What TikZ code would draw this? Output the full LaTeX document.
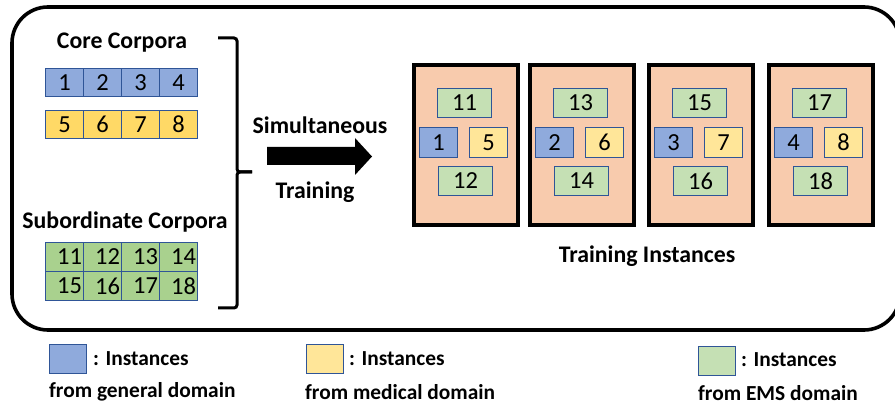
\documentclass[tikz,border=0pt]{standalone}
\usepackage{fontspec}
\setmainfont{Carlito}
\definecolor{bordblue}{HTML}{2F5597}
\definecolor{cblue}{HTML}{8FAADC}
\definecolor{cyellow}{HTML}{FFD966}
\definecolor{lyellow}{HTML}{FFE699}
\definecolor{cgreen}{HTML}{A9D18E}
\definecolor{lgreen}{HTML}{C5E0B4}
\definecolor{panelfill}{HTML}{F8CBAD}
\tikzset{
  cellbox/.style={draw=bordblue, line width=1.1pt, minimum width=38pt, minimum height=28pt, inner sep=0pt, anchor=north west, font=\fontsize{24.5}{26}\selectfont},
  gcell/.style={cellbox, fill=cgreen, minimum height=29pt, align=right, text width=35pt},
  inbox/.style={draw=bordblue, line width=1pt, inner sep=0pt, anchor=north west, minimum height=29pt, font=\fontsize{24.5}{26}\selectfont},
  panelbox/.style={draw=black, line width=3.8pt, fill=panelfill, minimum width=104pt, minimum height=160pt, inner sep=0pt, anchor=north west},
  headtext/.style={font=\bfseries\fontsize{23.8}{26}\selectfont, inner sep=0pt},
  legtext/.style={font=\bfseries\fontsize{21.4}{23}\selectfont, inner sep=0pt, anchor=west},
  legsq/.style={draw=bordblue, line width=1pt, minimum width=37pt, minimum height=29pt, inner sep=0pt, anchor=north west}
}
\begin{document}
\begin{tikzpicture}[x=1pt,y=-1pt]
\useasboundingbox (0,0) rectangle (895,406);
% outer frame
\draw[line width=3.6pt, rounded corners=36pt] (12,7) rectangle (900,330);
% headings
\node[headtext] (core) at (122,43) {Core Corpora};
\node[headtext] (sub) at (125,222) {Subordinate Corpora};
% core cells
\foreach \n [count=\i from 0] in {1,2,3,4}
  \node[cellbox, fill=cblue] (b\n) at (45+38*\i,68) {\n};
\foreach \n [count=\i from 0] in {5,6,7,8}
  \node[cellbox, fill=cyellow] (y\n) at (45+38*\i,110) {\n};
\foreach \n [count=\i from 0] in {11,12,13,14}
  \node[gcell] (g\n) at (45+38*\i,242) {\n};
\foreach \n [count=\i from 0] in {15,16,17,18}
  \node[gcell] (g\n) at (45+38*\i,271) {\n};
% brace
\draw[line width=3pt, rounded corners=3pt] (218,38) -- (237,38) -- (237,172) -- (252,172);
\draw[line width=3pt, rounded corners=3pt] (252,172) -- (237,172) -- (237,308) -- (218,308);
% arrow
\fill (267,147) -- (355,147) -- (355,138) -- (372,156.5) -- (355,175) -- (355,165) -- (267,165) -- cycle;
\node[headtext] (sim) at (320,125) {Simultaneous};
\node[headtext] (trn) at (315,192) {Training};
% panels
\foreach \k/\L/\ga/\bb/\yy/\gb in {1/412/11/1/5/12, 2/528/13/2/6/14, 3/647/15/3/7/16, 4/767/17/4/8/18} {
  \node[panelbox] (p\k) at (\L,63) {};
  \node[inbox, fill=lgreen, minimum width=54pt] (pa\k) at (\L+25,88) {\ga};
  \node[inbox, fill=cblue, minimum width=38pt, minimum height=30pt] (pb\k) at (\L+7,127) {\bb};
  \node[inbox, fill=lyellow, minimum width=38pt, minimum height=30pt] (pc\k) at (\L+57,127) {\yy};
  \node[inbox, fill=lgreen, minimum width=54pt] (pd\k) at (\L+26,166) {\gb};
}
\node[headtext] (ti) at (647,256) {Training Instances};
% legend
\node[legsq, fill=cblue] (lb) at (49,344) {};
\node[legtext] (lbt) at (93,359) {: Instances};
\node[legtext] (lbf) at (49,392) {from general domain};
\node[legsq, fill=lyellow] (ly) at (306,344) {};
\node[legtext] (lyt) at (349,359) {: Instances};
\node[legtext] (lyf) at (305,392) {from medical domain};
\node[legsq, fill=lgreen] (lg) at (698,346) {};
\node[legtext] (lgt) at (741,360) {: Instances};
\node[legtext] (lgf) at (698,393) {from EMS domain};
\end{tikzpicture}
\end{document}
